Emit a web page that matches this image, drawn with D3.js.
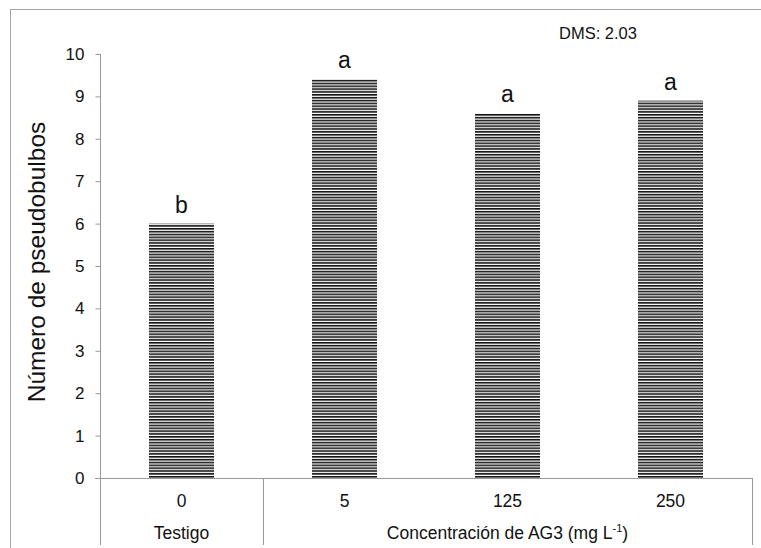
<!DOCTYPE html>
<html>
<head>
<meta charset="utf-8">
<script src="https://cdn.jsdelivr.net/npm/d3@7"></script>
<style>
  body { margin: 0; background: #fff; }
  text { font-family: "Liberation Sans", Arial, sans-serif; fill: #111; }
</style>
</head>
<body>
<svg width="761" height="548"></svg>
<script>
var categories = ["0", "5", "125", "250"];
var values = [6.0, 9.4, 8.6, 8.9];
var letters = ["b", "a", "a", "a"];
var yTicks = [0, 1, 2, 3, 4, 5, 6, 7, 8, 9, 10];
var groups = [
    {name: "Testigo", from: 0, to: 0},
    {name: "Concentración de AG3 (mg L", sup: "-1", tail: ")", from: 1, to: 3}
];
var dms = "DMS: 2.03";

var svg = d3.select("svg"),
    plotLeft = 100, plotRight = 752, plotTop = 54, plotBottom = 478;

// outer frame
svg.append("rect")
    .attr("x", 10.5).attr("y", 9.5)
    .attr("width", 800).attr("height", 600)
    .attr("fill", "none").attr("stroke", "#a6a6a6");

var defs = svg.append("defs");
var pat = defs.append("pattern")
    .attr("id", "stripes")
    .attr("patternUnits", "userSpaceOnUse")
    .attr("width", 10).attr("height", 2.85);
pat.append("rect").attr("width", 10).attr("height", 2.85).attr("fill", "#fff");
pat.append("rect").attr("width", 10).attr("height", 1.6).attr("fill", "#111");

var x = d3.scaleBand().domain(categories).range([plotLeft, plotRight]);
var y = d3.scaleLinear().domain([0, 10]).range([plotBottom, plotTop]);
var barW = 65;

// y axis
var yAxis = svg.append("g")
    .attr("transform", "translate(" + (plotLeft + 0.5) + ",0)")
    .call(d3.axisLeft(y).tickValues(yTicks).tickSize(5).tickPadding(11).tickFormat(d3.format("d")));
yAxis.select(".domain").remove();
yAxis.selectAll(".tick line").attr("stroke", "#999");
yAxis.selectAll(".tick text").attr("font-size", 17).attr("fill", "#111")
    .attr("font-family", "Liberation Sans, Arial, sans-serif");

svg.append("line")
    .attr("x1", plotLeft + 0.5).attr("x2", plotLeft + 0.5)
    .attr("y1", plotTop).attr("y2", 545)
    .attr("stroke", "#999");

// bars
svg.append("g").selectAll("rect")
    .data(values)
    .enter().append("rect")
    .attr("x", function (d, i) { return x(categories[i]) + x.bandwidth() / 2 - barW / 2; })
    .attr("y", function (d) { return y(d); })
    .attr("width", barW)
    .attr("height", function (d) { return y(0) - y(d); })
    .attr("fill", "url(#stripes)");

// letters
svg.append("g").selectAll("text")
    .data(values)
    .enter().append("text")
    .attr("x", function (d, i) { return x(categories[i]) + x.bandwidth() / 2; })
    .attr("y", function (d) { return y(d) - 11; })
    .attr("text-anchor", "middle")
    .attr("font-size", 23)
    .text(function (d, i) { return letters[i]; });

// x axis line
svg.append("line")
    .attr("x1", plotLeft - 5).attr("x2", plotRight)
    .attr("y1", plotBottom + 0.5).attr("y2", plotBottom + 0.5)
    .attr("stroke", "#999");

// category labels
svg.append("g").selectAll("text")
    .data(categories)
    .enter().append("text")
    .attr("x", function (d) { return x(d) + x.bandwidth() / 2; })
    .attr("y", 507)
    .attr("text-anchor", "middle")
    .attr("font-size", 17.5)
    .text(function (d) { return d; });

// group separators and labels
groups.forEach(function (g) {
    var gx1 = x(categories[g.from]), gx2 = x(categories[g.to]) + x.bandwidth();
    svg.append("line")
        .attr("x1", Math.round(gx2) + 0.5).attr("x2", Math.round(gx2) + 0.5)
        .attr("y1", plotBottom).attr("y2", 545)
        .attr("stroke", "#999");
    var t = svg.append("text")
        .attr("x", (gx1 + gx2) / 2)
        .attr("y", 539)
        .attr("text-anchor", "middle")
        .attr("font-size", 17.5);
    t.append("tspan").text(g.name);
    if (g.sup) {
        t.append("tspan").attr("font-size", 11).attr("dy", -7).text(g.sup);
        t.append("tspan").attr("dy", 7).text(g.tail);
    }
});

// y title
svg.append("text")
    .attr("transform", "translate(45,262) rotate(-90)")
    .attr("text-anchor", "middle")
    .attr("font-size", 24.5)
    .text("Número de pseudobulbos");

svg.append("text")
    .attr("x", 559).attr("y", 39)
    .attr("font-family", "Open Sans, sans-serif")
    .attr("font-size", 16.5)
    .text(dms);
</script>
</body>
</html>
